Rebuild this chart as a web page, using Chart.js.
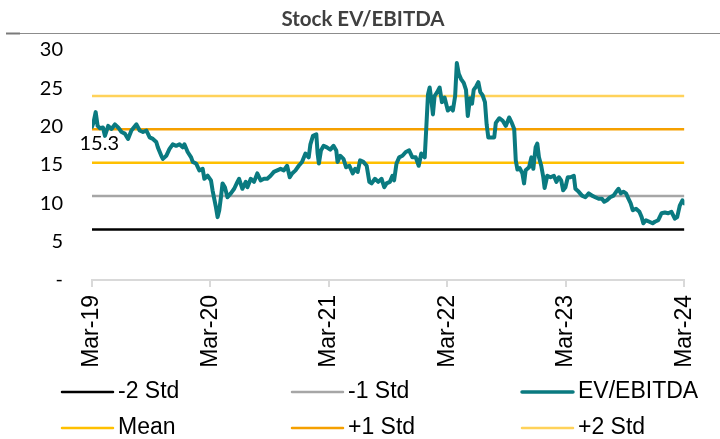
<!DOCTYPE html>
<html>
<head>
<meta charset="utf-8">
<script src="https://cdn.jsdelivr.net/npm/chart.js@4.4.1/dist/chart.umd.min.js"></script>
<style>
  html, body { margin: 0; padding: 0; background: #fff; }
  #wrap { width: 720px; height: 439px; }
</style>
</head>
<body>
<div id="wrap"><canvas id="chart"></canvas></div>
<script>
// x = months since Mar-19
const tickLabels = ['Mar-19', 'Mar-20', 'Mar-21', 'Mar-22', 'Mar-23', 'Mar-24']

const months = [
  0, 0.15, 0.37, 0.57, 0.81, 1.11, 1.31, 1.64, 1.98, 2.32, 2.65, 2.99, 3.32, 3.65, 3.99,
  4.5, 4.83, 5.16, 5.51, 5.84, 6.17, 6.51, 6.67, 7.02, 7.18, 7.52, 7.85, 8.18, 8.53, 8.86,
  9.19, 9.36, 9.69, 10.04, 10.2, 10.54, 10.87, 11.21, 11.38, 11.71, 12.05, 12.21, 12.55, 12.72, 12.89,
  13.06, 13.22, 13.46, 13.72, 14.06, 14.4, 14.73, 14.9, 15.23, 15.57, 15.74, 16.08, 16.41, 16.74, 17.08,
  17.42, 17.75, 18.09, 18.42, 18.76, 19.1, 19.43, 19.76, 20.03, 20.27, 20.61, 20.94, 21.27, 21.62, 21.95,
  22.12, 22.38, 22.72, 22.85, 22.98, 23.19, 23.46, 23.79, 24.13, 24.46, 24.74, 24.87, 25.14, 25.47, 25.74,
  26.07, 26.41, 26.65, 26.91, 27.15, 27.48, 27.82, 28.09, 28.32, 28.66, 28.99, 29.33, 29.6, 29.83, 30.17,
  30.43, 30.6, 30.84, 31.11, 31.44, 31.78, 32.12, 32.45, 32.79, 33.09, 33.35, 33.7, 33.86, 34.03, 34.2,
  34.36, 34.53, 34.7, 34.96, 35.21, 35.44, 35.71, 36.04, 36.37, 36.55, 36.78, 36.95, 37.15, 37.38, 37.65,
  37.88, 38.06, 38.29, 38.49, 38.66, 38.93, 39.13, 39.33, 39.56, 39.8, 39.97, 40.14, 40.4, 40.74, 40.9,
  41.25, 41.58, 41.91, 42.25, 42.48, 42.76, 42.92, 43.09, 43.32, 43.59, 43.76, 43.92, 44.27, 44.5, 44.7,
  44.93, 45.1, 45.27, 45.5, 45.71, 45.84, 46.11, 46.44, 46.78, 47.04, 47.29, 47.52, 47.72, 47.95, 48.19,
  48.46, 48.8, 48.96, 49.3, 49.63, 49.97, 50.31, 50.64, 50.97, 51.31, 51.65, 51.88, 52.15, 52.48, 52.82,
  53.09, 53.33, 53.56, 53.83, 54.09, 54.33, 54.56, 54.77, 55.1, 55.44, 55.67, 55.84, 56.11, 56.45, 56.78,
  57.01, 57.35, 57.68, 58.02, 58.36, 58.69, 59.03, 59.27, 59.53, 59.8, 60
]

const evEbitda = [
  20.0, 20.5, 21.9, 20.1, 19.8, 19.9, 18.8, 20.1, 19.7, 20.3, 19.9, 19.3, 19.1, 18.4, 19.5,
  20.3, 19.5, 19.3, 19.5, 18.6, 18.4, 18.0, 17.3, 16.2, 15.8, 16.2, 17.1, 17.7, 17.5, 17.7,
  17.3, 17.7, 16.7, 16.0, 15.4, 15.2, 14.3, 14.5, 13.2, 13.6, 13.0, 11.7, 9.5, 8.2, 9.1,
  10.8, 12.6, 12.1, 10.8, 11.3, 11.9, 12.8, 13.2, 11.9, 12.8, 12.1, 13.2, 12.8, 13.9, 13.0,
  13.2, 13.2, 13.6, 14.1, 14.3, 14.5, 14.3, 14.9, 13.4, 13.9, 14.3, 14.9, 15.4, 16.5, 16.0,
  17.7, 18.8, 19.0, 16.5, 15.2, 16.9, 17.5, 17.3, 17.0, 17.5, 16.9, 15.4, 16.2, 15.8, 14.7,
  14.9, 13.9, 14.5, 14.1, 15.6, 15.4, 14.9, 12.8, 12.6, 13.2, 12.8, 13.2, 12.1, 12.6, 12.8,
  13.6, 13.0, 15.2, 16.0, 16.2, 16.7, 16.9, 16.0, 16.0, 14.9, 16.5, 16.0, 19.9, 24.2, 25.1,
  23.6, 21.6, 24.0, 24.5, 25.1, 23.2, 23.8, 22.1, 22.5, 22.1, 24.0, 28.3, 26.9, 26.2, 25.7,
  24.8, 21.4, 23.7, 23.0, 24.8, 25.3, 25.8, 24.5, 24.1, 23.2, 20.3, 18.6, 18.6, 18.6, 20.5,
  21.1, 20.8, 20.1, 21.2, 20.6, 19.7, 15.6, 14.4, 14.6, 13.9, 12.6, 14.3, 14.7, 16.0, 14.5,
  17.3, 17.8, 16.0, 14.9, 13.4, 12.0, 13.6, 13.4, 13.6, 12.8, 13.4, 13.0, 11.7, 12.1, 13.4,
  13.4, 13.6, 11.9, 11.5, 11.0, 10.8, 11.3, 11.0, 10.8, 10.6, 10.6, 10.2, 10.4, 10.8, 11.0,
  11.5, 11.9, 11.3, 11.5, 11.3, 10.6, 10.0, 9.1, 9.3, 8.9, 8.2, 7.4, 7.8, 7.6, 7.4,
  7.6, 7.8, 8.7, 8.8, 8.7, 8.9, 8.0, 8.2, 9.7, 10.4, 10.0
]

const bandNames = ['-2 Std', '-1 Std', 'Mean', '+1 Std', '+2 Std']
const bandValues = [6.6, 10.95, 15.3, 19.65, 24.0]
const bandColors = ['#000000', '#a6a6a6', '#ffc000', '#f5a000', '#ffd25a']

const tealColor = '#0a7a80'

function band(i) {
  return {
    label: bandNames[i],
    data: [{x: 0, y: bandValues[i]}, {x: 60, y: bandValues[i]}],
    borderColor: bandColors[i],
    borderWidth: 2.5,
    pointRadius: 0,
    order: 1,
  }
}

const evSeries = {
  label: 'EV/EBITDA',
  data: months.map((m, i) => ({x: m, y: evEbitda[i]})),
  borderColor: tealColor,
  borderWidth: 4,
  borderJoinStyle: 'round',
  borderCapStyle: 'round',
  pointRadius: 0,
  tension: 0,
  order: 0,
}

// legend order: -2, -1, EV, Mean, +1, +2
const datasets = [band(0), band(1), evSeries, band(2), band(3), band(4)]

const decorations = {
  id: 'decorations',
  afterDraw(chart) {
    const ctx = chart.ctx
    const xs = chart.scales.x
    const ys = chart.scales.y
    ctx.save()

    // title and rule
    ctx.fillStyle = '#404040'
    ctx.font = 'bold 20.5px Lato'
    ctx.textAlign = 'center'
    ctx.textBaseline = 'middle'
    ctx.fillText('Stock EV/EBITDA', 363, 19)
    ctx.strokeStyle = '#8c8c8c'
    ctx.lineWidth = 1
    ctx.beginPath()
    ctx.moveTo(6, 33.5)
    ctx.lineTo(720, 33.5)
    ctx.stroke()
    ctx.strokeStyle = '#7a7a7a'
    ctx.lineWidth = 2
    ctx.beginPath()
    ctx.moveTo(6, 33.5)
    ctx.lineTo(20, 33.5)
    ctx.stroke()

    // mean label at first point
    const mx = xs.getPixelForValue(0)
    const my = ys.getPixelForValue(bandValues[2])
    ctx.fillStyle = '#000'
    ctx.font = '20px Lato'
    ctx.textAlign = 'right'
    ctx.fillText(bandValues[2].toFixed(1), mx + 27, my - 19)

    // legend, 3 columns x 2 rows
    ctx.font = '23px "Liberation Sans"'
    ctx.textAlign = 'left'
    const colX = [62, 292, 522]
    const rowY = [392, 428]
    datasets.forEach((ds, i) => {
      const x0 = colX[i % 3]
      const y0 = rowY[Math.floor(i / 3)]
      ctx.strokeStyle = ds.borderColor
      ctx.lineWidth = ds.label === 'EV/EBITDA' ? 3.5 : 2.5
      ctx.lineCap = 'round'
      ctx.beginPath()
      ctx.moveTo(x0, y0)
      ctx.lineTo(x0 + 51, y0)
      ctx.stroke()
      ctx.fillStyle = '#000'
      ctx.fillText(ds.label, x0 + 56, y0)
    })
    ctx.restore()
  }
}

new Chart(document.getElementById('chart'), {
  type: 'line',
  data: { datasets },
  options: {
    responsive: true,
    maintainAspectRatio: false,
    animation: false,
    layout: { padding: { top: 50, right: 32, bottom: 69, left: 0 } },
    plugins: {
      legend: { display: false },
      tooltip: { enabled: false },
      title: { display: false },
    },
    scales: {
      x: {
        type: 'linear',
        min: 0,
        max: 60,
        afterFit: (s) => { s.height = 90 },
        border: { display: true, color: '#d9d9d9', width: 2 },
        grid: { display: true, drawOnChartArea: false, drawTicks: true, tickLength: 7, color: '#d9d9d9', lineWidth: 2 },
        ticks: {
          stepSize: 12,
          autoSkip: false,
          minRotation: 90,
          maxRotation: 90,
          padding: 8,
          color: '#000',
          font: { family: 'Liberation Sans', size: 23 },
          callback: (v) => tickLabels[Math.round(v / 12)],
        },
      },
      y: {
        min: 0,
        max: 30,
        afterFit: (s) => { s.width = 92 },
        border: { display: false },
        grid: { display: false, drawTicks: false },
        ticks: {
          stepSize: 5,
          padding: 29,
          color: '#000',
          font: { family: 'Lato', size: 20 },
          callback: (v) => v === 0 ? '-' : v,
        },
      },
    },
  },
  plugins: [decorations],
})
</script>
</body>
</html>
